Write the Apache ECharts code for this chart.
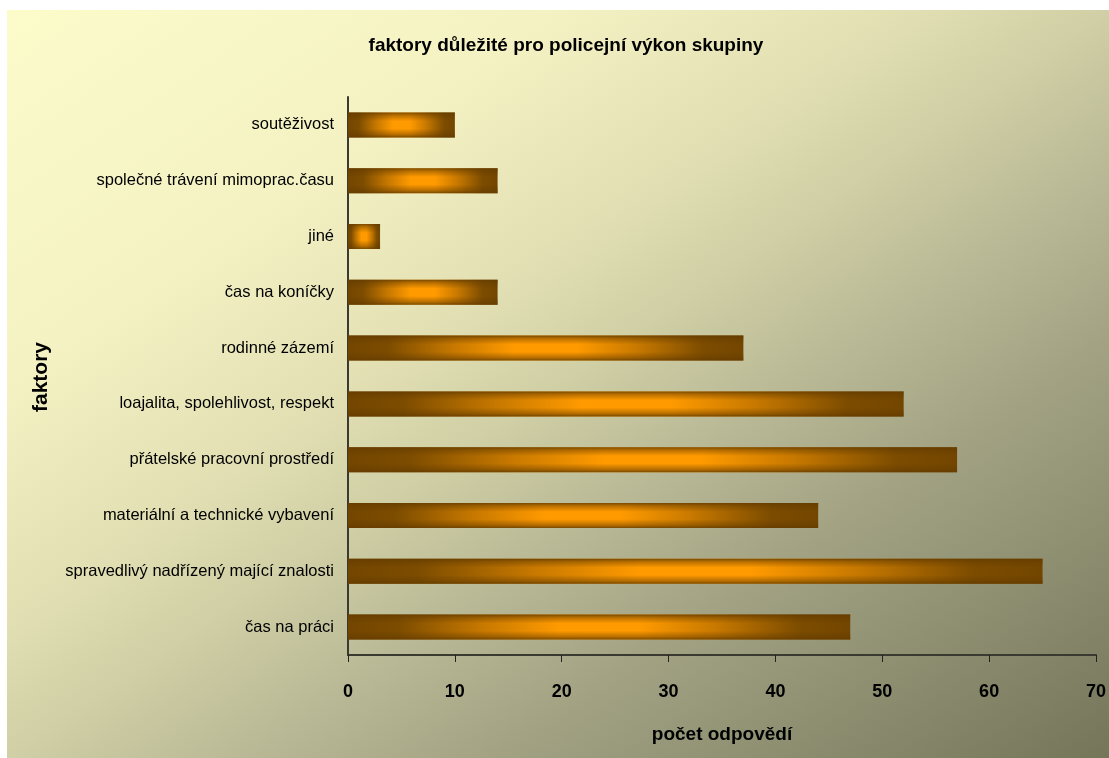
<!DOCTYPE html>
<html>
<head>
<meta charset="utf-8">
<script src="https://cdn.jsdelivr.net/npm/echarts@6/dist/echarts.min.js"></script>
<style>
html,body{margin:0;padding:0;background:#fff;}
#chart{width:1109px;height:758px;}
</style>
</head>
<body>
<div id="chart"></div>
<script>
// Data (bottom to top)
const categories = [
  'čas na práci',
  'spravedlivý nadřízený mající znalosti',
  'materiální a technické vybavení',
  'přátelské pracovní prostředí',
  'loajalita, spolehlivost, respekt',
  'rodinné zázemí',
  'čas na koníčky',
  'jiné',
  'společné trávení mimoprac.času',
  'soutěživost'
];
const counts = [47, 65, 44, 57, 52, 37, 14, 3, 14, 10];
const xTicks = [0, 10, 20, 30, 40, 50, 60, 70];

const titleText = 'faktory důležité pro policejní výkon skupiny';
const xName = 'počet odpovědí';
const yName = 'faktory';

const chart = echarts.init(document.getElementById('chart'), null, {renderer: 'canvas'});
const font = 'Liberation Sans, Arial, sans-serif';

const option = {
  backgroundColor: '#ffffff',
  animation: false,
  graphic: [
    {
      type: 'rect', z: -10, silent: true,
      shape: {x: 7, y: 10, width: 1102, height: 748},
      style: {
        fill: {
          type: 'linear', x: 7, y: 10, x2: 702, y2: 1034, global: true,
          colorStops: [
            {offset: 0, color: '#fcfbca'},
            {offset: 0.25, color: '#f4f2c3'},
            {offset: 0.4, color: '#e3e1b4'},
            {offset: 0.5, color: '#d0cfa5'},
            {offset: 0.6, color: '#baba97'},
            {offset: 0.75, color: '#9d9d7f'},
            {offset: 1, color: '#75755a'}
          ]
        }
      }
    },
    {
      type: 'text', x: 566, y: 46,
      style: {text: titleText, font: 'bold 19px ' + font, fill: '#000', align: 'center', verticalAlign: 'middle'}
    },
    {
      type: 'text', x: 41, y: 377, rotation: Math.PI / 2,
      style: {text: yName, font: 'bold 21px ' + font, fill: '#000', align: 'center', verticalAlign: 'middle'}
    }
  ],
  grid: {left: 348, right: 13, top: 97, bottom: 103, containLabel: false},
  xAxis: {
    type: 'value', min: 0, max: 70, interval: 10,
    name: xName, nameLocation: 'middle', nameGap: 70,
    nameTextStyle: {fontFamily: font, fontWeight: 'bold', fontSize: 19, color: '#000'},
    axisLine: {show: true, lineStyle: {color: '#3a3a30', width: 2}},
    axisTick: {show: true, length: 7, lineStyle: {color: '#222', width: 1}},
    axisLabel: {
      margin: 28, fontFamily: font, fontWeight: 'bold', fontSize: 18, color: '#000',
      formatter: function (v) { return xTicks.indexOf(v) >= 0 ? String(v) : ''; }
    },
    splitLine: {show: false}
  },
  yAxis: {
    type: 'category', data: categories,
    axisLine: {show: true, lineStyle: {color: '#3a3a30', width: 2}},
    axisTick: {show: false},
    axisLabel: {margin: 14, fontFamily: font, fontSize: 16.5, color: '#000'},
    splitLine: {show: false}
  },
  series: [
    {
      type: 'bar', data: counts, barWidth: 25, z: 2,
      itemStyle: {
        color: {
          type: 'linear', x: 0, y: 0, x2: 1, y2: 0,
          colorStops: [
            {offset: 0, color: '#734600'},
            {offset: 0.1, color: '#7c4c00'},
            {offset: 0.27, color: '#c87900'},
            {offset: 0.42, color: '#ff9a00'},
            {offset: 0.58, color: '#ff9a00'},
            {offset: 0.73, color: '#c87900'},
            {offset: 0.9, color: '#7c4c00'},
            {offset: 1, color: '#734600'}
          ]
        }
      }
    },
    {
      type: 'bar', data: counts, barWidth: 25, barGap: '-100%', z: 3, silent: true,
      itemStyle: {
        color: {
          type: 'linear', x: 0, y: 0, x2: 0, y2: 1,
          colorStops: [
            {offset: 0, color: 'rgba(100,60,0,0.85)'},
            {offset: 0.12, color: 'rgba(100,60,0,0.45)'},
            {offset: 0.35, color: 'rgba(100,60,0,0)'},
            {offset: 0.65, color: 'rgba(100,60,0,0)'},
            {offset: 0.88, color: 'rgba(100,60,0,0.45)'},
            {offset: 1, color: 'rgba(100,60,0,0.85)'}
          ]
        }
      }
    }
  ]
};
chart.setOption(option);
</script>
</body>
</html>
